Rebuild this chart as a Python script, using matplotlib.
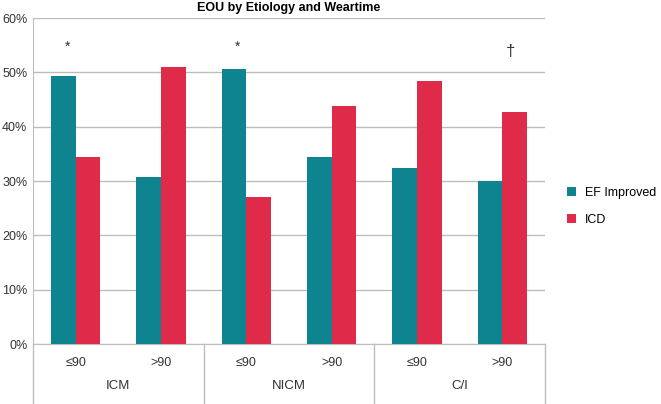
import matplotlib.pyplot as plt
import numpy as np

plt.rcParams['font.family'] = ['Liberation Sans', 'DejaVu Sans']

weartime = ['≤90', '>90', '≤90', '>90', '≤90', '>90']
etiology = ['ICM', 'NICM', 'C/I']
ef_improved = [49.3, 30.7, 50.6, 34.5, 32.4, 30.0]
icd = [34.4, 50.9, 27.0, 43.8, 48.4, 42.7]
marks = ['*', '', '*', '', '', '†']

teal = '#0F8491'
red = '#E02A49'
grid = '#BDBDBD'

fig = plt.figure(figsize=(6.61, 4.04), dpi=100)
ax = fig.add_axes([0.0499, 0.1485, 0.7746, 0.8069])

x = np.arange(len(weartime))
w = 0.29
ax.bar(x - w/2, ef_improved, w, color=teal, label='EF Improved', zorder=3)
ax.bar(x + w/2, icd, w, color=red, label='ICD', zorder=3)

ax.set_xlim(-0.5, 5.5)
ax.set_ylim(0, 60)
ax.set_yticks(range(0, 61, 10))
ax.set_yticklabels([f'{v}%' for v in range(0, 61, 10)], fontsize=9, color='#333333')
ax.yaxis.grid(True, color=grid, linewidth=1, zorder=0)
ax.tick_params(axis='y', length=0, pad=4)
ax.tick_params(axis='x', length=0, pad=9)
ax.set_xticks(x)
ax.set_xticklabels(weartime, fontsize=9, color='#333333')

for s in ['top', 'right']:
    ax.spines[s].set_visible(False)
ax.spines['left'].set_color(grid)
ax.spines['bottom'].set_color(grid)

# group separators below the axis
tr = ax.get_xaxis_transform()
for b in [-0.5, 1.5, 3.5, 5.5]:
    ax.plot([b, b], [0, -0.19], color=grid, linewidth=1, transform=tr, clip_on=False)
for i, g in enumerate(etiology):
    ax.text(2*i + 0.5, -0.13, g, transform=tr, ha='center', va='center', fontsize=9.5, color='#333333')

# significance marks
for i, m in enumerate(marks):
    if m == '*':
        ax.text(i - 0.1, 54.7, m, ha='center', va='center', fontsize=10, color='#333333')
    elif m:
        ax.text(i + 0.1, 53.8, m, ha='center', va='center', fontsize=12, color='#333333')

ax.set_title('EOU by Etiology and Weartime', fontsize=9, fontweight='bold', pad=5)

fig.legend(loc='center left', bbox_to_anchor=(0.858, 0.49), frameon=False, fontsize=9,
           handlelength=0.7, handleheight=0.7, handletextpad=0.7, labelspacing=1.2,
           borderpad=0, borderaxespad=0)

fig.savefig('out.png', dpi=100)
